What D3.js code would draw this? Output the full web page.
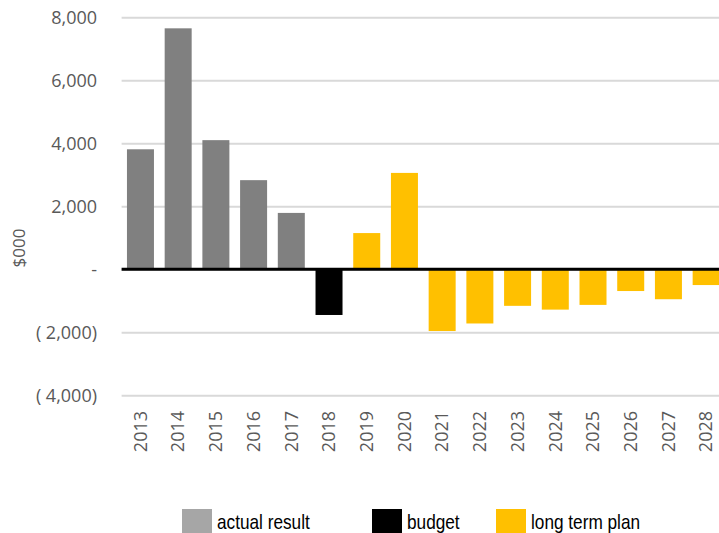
<!DOCTYPE html>
<html>
<head>
<meta charset="utf-8">
<script src="https://cdn.jsdelivr.net/npm/d3@7"></script>
<style>
  body { margin: 0; background: #fff; }
  svg { display: block; }
</style>
</head>
<body>
<svg width="719" height="533"></svg>
<script>
var years = ["2013","2014","2015","2016","2017","2018","2019","2020","2021","2022","2023","2024","2025","2026","2027","2028"];
var values = [3810, 7650, 4100, 2830, 1790, -1450, 1150, 3060, -1960, -1720, -1160, -1280, -1130, -690, -950, -500];
var kinds = ["actual","actual","actual","actual","actual","budget","plan","plan","plan","plan","plan","plan","plan","plan","plan","plan"];
var yTicks = [-4000, -2000, 0, 2000, 4000, 6000, 8000];
var legendNames = ["actual result", "budget", "long term plan"];

var colors = {actual: "#808080", budget: "#000000", plan: "#ffc000"};
var legendColors = ["#a6a6a6", "#000000", "#ffc000"];

var plot = {left: 121.6, right: 725, top: 17.3, bottom: 395.3};
var svg = d3.select("svg");

var xScale = d3.scaleBand()
.domain(years)
.range([plot.left, plot.right])
.paddingInner(0.284)
.paddingOuter(0.142);

var yScale = d3.scaleLinear()
.domain([-4000, 8000])
.range([plot.bottom, plot.top]);

var fmt = d3.format(",");
function yFormat(d) {
	if (d === 0) return "-";
	if (d < 0) return "( " + fmt(-d) + ")";
	return fmt(d);
}

// gridlines + y labels
var yaxis = d3.axisLeft(yScale)
.tickValues(yTicks)
.tickFormat(yFormat)
.tickSize(-(plot.right - plot.left))
.tickPadding(24.6);

var gy = svg.append("g")
.attr("transform", "translate(" + plot.left + ",0)")
.call(yaxis);
gy.select(".domain").remove();
gy.selectAll(".tick line").attr("stroke", "#d9d9d9").attr("stroke-width", 2);
gy.selectAll(".tick text")
.attr("fill", "#595959")
.style("font-family", "'Open Sans', sans-serif")
.style("font-size", "18px");

// bars
svg.selectAll("rect.bar")
.data(values)
.enter()
.append("rect")
.attr("class", "bar")
.attr("x", function(d, i){ return xScale(years[i]); })
.attr("width", xScale.bandwidth())
.attr("y", function(d){ return yScale(Math.max(0, d)); })
.attr("height", function(d){ return Math.abs(yScale(d) - yScale(0)); })
.attr("fill", function(d, i){ return colors[kinds[i]]; });

// zero line
svg.append("line")
.attr("x1", plot.left)
.attr("x2", plot.right)
.attr("y1", yScale(0))
.attr("y2", yScale(0))
.attr("stroke", "#000")
.attr("stroke-width", 3);

// x labels
var xaxis = d3.axisBottom(xScale).tickSize(0);
var gx = svg.append("g")
.attr("transform", "translate(0," + plot.bottom + ")")
.call(xaxis);
gx.select(".domain").remove();
gx.selectAll(".tick text")
.attr("transform", "rotate(-90)")
.attr("x", -(411 - plot.bottom))
.attr("y", 0)
.attr("dy", "0.35em")
.attr("text-anchor", "end")
.attr("fill", "#595959")
.style("font-family", "'Open Sans', sans-serif")
.style("font-size", "18px");

// y title
svg.append("text")
.attr("transform", "translate(25,248) rotate(-90)")
.attr("text-anchor", "middle")
.attr("fill", "#595959")
.style("font-family", "'Open Sans', sans-serif")
.style("font-size", "17px")
.text("$000");

// legend
var legendX = [182, 372, 496];
var lg = svg.selectAll("g.legend")
.data(legendNames)
.enter()
.append("g")
.attr("class", "legend")
.attr("transform", function(d, i){ return "translate(" + legendX[i] + ",509)"; });
lg.append("rect")
.attr("width", 30)
.attr("height", 24)
.attr("fill", function(d, i){ return legendColors[i]; });
lg.append("text")
.attr("transform", "translate(35,20) scale(0.82,1)")
.attr("fill", "#000")
.style("font-family", "'Liberation Sans', Arial, sans-serif")
.style("font-size", "21px")
.text(function(d){ return d; });
</script>
</body>
</html>
